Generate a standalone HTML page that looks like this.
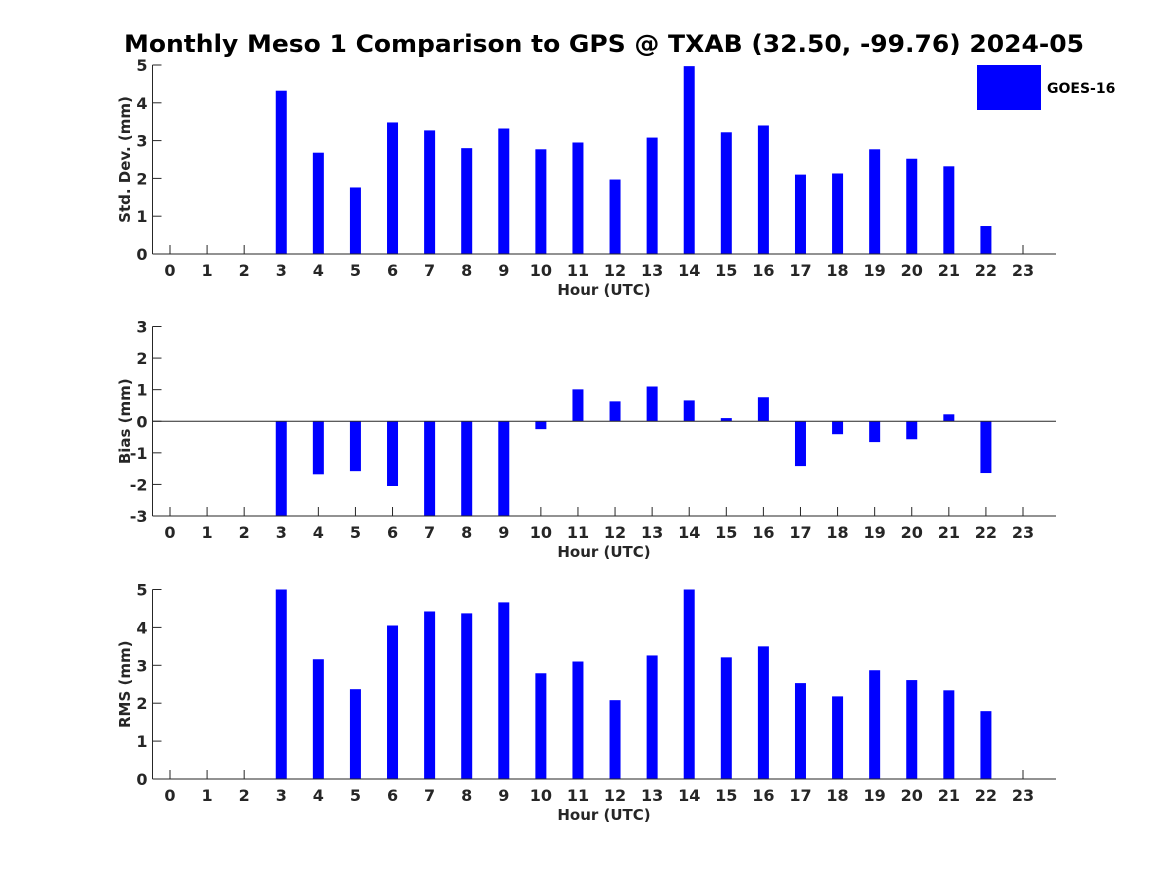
<!DOCTYPE html>
<html><head><meta charset="utf-8"><style>body{margin:0;background:#fff}svg{display:block;font-family:"DejaVu Sans","Liberation Sans",sans-serif}</style></head>
<body>
<svg id="c" width="1167" height="875"></svg>
<script>
const hours=[0,1,2,3,4,5,6,7,8,9,10,11,12,13,14,15,16,17,18,19,20,21,22,23];
const stdVals=[null,null,null,4.32,2.68,1.76,3.48,3.27,2.8,3.32,2.77,2.95,1.97,3.08,4.97,3.22,3.4,2.1,2.13,2.77,2.52,2.32,0.74,null];
const biasVals=[null,null,null,-3.6,-1.68,-1.58,-2.05,-3.4,-3.5,-3.3,-0.25,1.01,0.63,1.1,0.66,0.1,0.76,-1.42,-0.41,-0.66,-0.57,0.22,-1.64,null];
const rmsVals=[null,null,null,5.0,3.16,2.37,4.05,4.42,4.37,4.66,2.79,3.1,2.08,3.26,5.0,3.21,3.5,2.53,2.18,2.87,2.61,2.34,1.79,null];
const stdTicks=[0,1,2,3,4,5];
const biasTicks=[-3,-2,-1,0,1,2,3];
const rmsTicks=[0,1,2,3,4,5];
const NS='http://www.w3.org/2000/svg';
const svg=document.getElementById('c');
function mk(t,a,p){const e=document.createElementNS(NS,t);for(const k in a)e.setAttribute(k,a[k]);(p||svg).appendChild(e);return e;}
const L=152.5,R=1056;
const xs=h=>170+h*37.087;
let title=mk('text',{x:604,y:52,'text-anchor':'middle','font-size':24,'font-weight':'bold',fill:'#000',textLength:960,lengthAdjust:'spacingAndGlyphs'});
title.textContent='Monthly Meso 1 Comparison to GPS @ TXAB (32.50, -99.76) 2024-05';


function panel(name,top,bot,ymin,ymax,ticks,vals,ylabel,baseline){
  const g=mk('g',{});
  
  
  const ys=v=>bot-(v-ymin)/(ymax-ymin)*(bot-top);
  hours.forEach(h=>{const x=xs(h);mk('line',{x1:x,x2:x,y1:bot,y2:bot-9,stroke:'#262626'},g);});
  ticks.forEach(t=>{const y=ys(t);mk('line',{x1:L,x2:L+9,y1:y,y2:y,stroke:'#262626'},g);});
  const cp=mk('clipPath',{id:'cp'+name},g);mk('rect',{x:L,y:top,width:R-L,height:bot-top},cp);
  const bg=mk('g',{'clip-path':'url(#cp'+name+')'},g);
  vals.forEach((v,i)=>{if(v==null)return;const y0=ys(baseline),y1=ys(v);
    const r=mk('rect',{x:xs(hours[i])-5.5,y:Math.min(y0,y1),width:11,height:Math.abs(y1-y0),fill:'#0000ff'},bg);
    
    });
  const yb=ys(baseline);
  if(baseline!==ymin) mk('line',{x1:L,x2:R,y1:yb,y2:yb,stroke:'#262626','stroke-width':1},g);
  mk('line',{x1:L,x2:L,y1:top,y2:bot,stroke:'#262626','stroke-width':1},g);
  mk('line',{x1:L,x2:R,y1:bot,y2:bot,stroke:'#262626','stroke-width':1},g);
  ticks.forEach(t=>{const y=ys(t);
    const tx=mk('text',{x:L-5,y:y+6,'text-anchor':'end','font-size':16,'font-weight':'bold',fill:'#262626'},g);tx.textContent=t;
    
    });
  hours.forEach(h=>{const x=xs(h);
    const tx=mk('text',{x:x,y:bot+22,'text-anchor':'middle','font-size':16,'font-weight':'bold',fill:'#262626'},g);tx.textContent=h;
    
    });
  const xl=mk('text',{x:604,y:bot+41,'text-anchor':'middle','font-size':15,'font-weight':'bold',fill:'#262626'},g);xl.textContent='Hour (UTC)';
  
  
  const cy=(top+bot)/2;
  const yl=mk('text',{x:130,y:cy,'text-anchor':'middle','font-size':15,'font-weight':'bold',fill:'#262626',transform:'rotate(-90 130 '+cy+')'},g);yl.textContent=ylabel;
  
  
}
panel('std',65,254,0,5,stdTicks,stdVals,'Std. Dev. (mm)',0);
panel('bias',326.5,516,-3,3,biasTicks,biasVals,'Bias (mm)',0);
panel('rms',589.5,779,0,5,rmsTicks,rmsVals,'RMS (mm)',0);
const lg=mk('g',{});


mk('rect',{x:977,y:65,width:64,height:45,fill:'#0000ff'},lg);
const lt=mk('text',{x:1047,y:93,'font-size':14,'font-weight':'bold',fill:'#000'},lg);lt.textContent='GOES-16';


</script>
</body></html>
